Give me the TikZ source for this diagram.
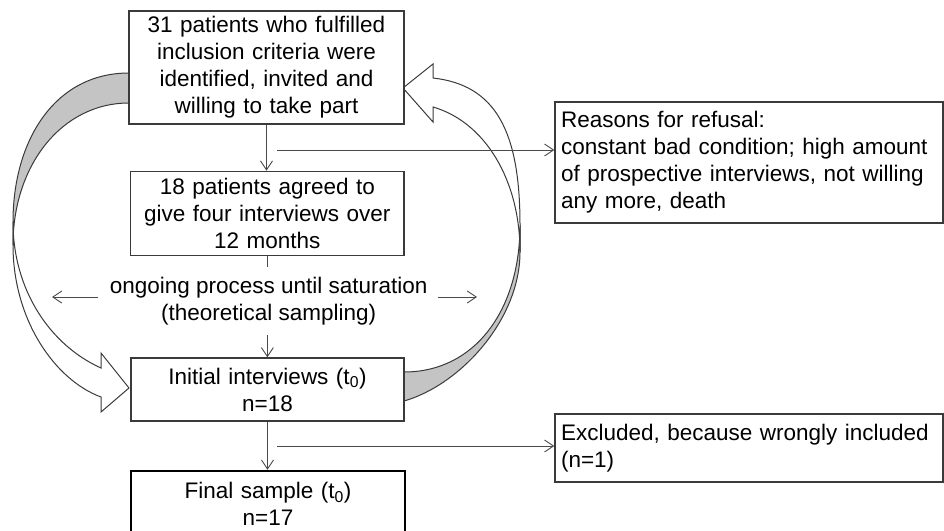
\documentclass[tikz,border=0pt]{standalone}
\usepackage{fontspec}
\setmainfont{Liberation Sans}
\usetikzlibrary{arrows.meta}
\definecolor{boxline}{HTML}{3A3A3A}
\definecolor{connline}{HTML}{4A4A4A}
\definecolor{bandgray}{HTML}{C4C4C4}
\begin{document}
\begin{tikzpicture}[x=1pt,y=-1pt,
  txt/.style={font=\fontsize{22.5}{27}\selectfont, text=black},
  box/.style={txt, draw=boxline, line width=1.3pt, fill=white, inner sep=0pt, align=center},
  sidebox/.style={txt, draw=boxline, line width=1.3pt, fill=white, inner xsep=6pt, inner ysep=0pt, align=left, text width=376pt, minimum width=388pt},
  conn/.style={draw=connline, line width=0.9pt},
  arr/.style={conn, -{Straight Barb[length=9pt,width=12pt]}},
  band/.style={draw=boxline, line width=1pt, line join=miter}
]
\useasboundingbox (0,0) rectangle (944,530);
\fill[white] (0,0) rectangle (944,530);

% left curved arrow: back (gray) and front (white) faces
\filldraw[band, fill=bandgray] (129,73) .. controls (55,73) and (13,140) .. (13,222) -- (13,245) .. controls (13,165) and (62,103) .. (129,103) -- cycle;
\filldraw[band, fill=white] (13,222) .. controls (13,290) and (50,345) .. (101,368) -- (101,353) -- (129,388) -- (101,412) -- (101,397) .. controls (55,380) and (13,320) .. (13,245) -- cycle;

% right curved arrow
\filldraw[band, fill=bandgray] (520,225) .. controls (520,310) and (475,372) .. (404,372) -- (404,401) .. controls (460,385) and (520,320) .. (520,252) -- cycle;
\filldraw[band, fill=white] (433,78) .. controls (495,85) and (520,130) .. (520,225) -- (520,252) .. controls (520,180) and (485,122) .. (433,107) -- (433,122) -- (403,88) -- (433,64) -- cycle;

% boxes
\node[box, minimum width=275pt, minimum height=113pt, text width=270pt] (b1) at (266.5,67.5)
  {31 patients who fulfilled\\inclusion criteria were\\identified, invited and\\willing to take part};
\node[box, minimum width=273.3pt, minimum height=84.3pt, text width=268pt] (b2) at (267.35,213.5)
  {18 patients agreed to\\give four interviews over\\12 months};
\node[txt, align=center, inner sep=0pt] (m) at (268.7,301)
  {ongoing process until saturation\\(theoretical sampling)};
\node[box, minimum width=273pt, minimum height=63pt, text width=268pt] (b3) at (267.5,389.5)
  {Initial interviews (t\textsubscript{0})\\n=18};
\node[box, draw=black, line width=2.4pt, minimum width=274pt, minimum height=65pt, text width=268pt] (b4) at (268,503.5)
  {Final sample (t\textsubscript{0})\\n=17};
\node[sidebox, minimum height=121pt] (r) at (749,162.5)
  {Reasons for refusal:\\constant bad condition; high amount\\of prospective interviews, not willing\\any more, death};
\node[sidebox, minimum height=68pt] (e) at (749,448)
  {Excluded, because wrongly included\\(n=1)};

% connectors
\coordinate (c1) at (277,150);
\coordinate (s1) at (267.35,267);
\coordinate (s2) at (267.35,335);
\coordinate (c2) at (277,446);
\coordinate (la) at (98,297);
\coordinate (lb) at (52,297);
\coordinate (ra) at (438,297);
\coordinate (rb) at (477,297);

\draw[arr] (b1.south) -- (b1.south |- b2.north);
\draw[arr] (c1) -- (c1 -| r.west);
\draw[conn] (b2.south) -- (s1);
\draw[arr] (s2) -- (s2 |- b3.north);
\draw[arr] (la) -- (lb);
\draw[arr] (ra) -- (rb);
\draw[arr] (b3.south) -- (b3.south |- b4.north);
\draw[arr] (c2) -- (c2 -| e.west);
\end{tikzpicture}
\end{document}
